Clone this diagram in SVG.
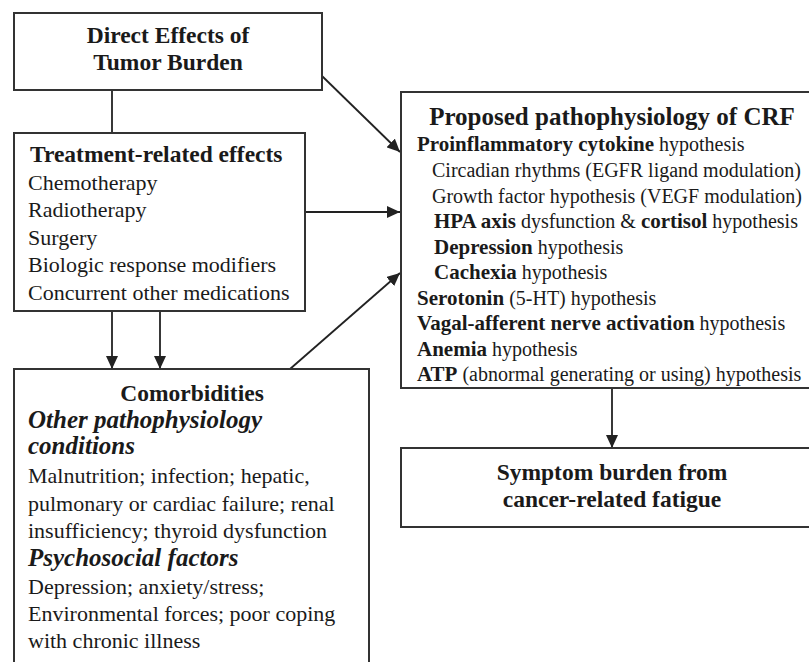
<svg xmlns="http://www.w3.org/2000/svg" width="809" height="662" viewBox="0 0 809 662">
  <defs>
    <marker id="arr" markerUnits="userSpaceOnUse" markerWidth="14" markerHeight="12" refX="13" refY="6" orient="auto">
      <path d="M0,0 L13,6 L0,12 Z" fill="#222"/>
    </marker>
    <style>
      .box { fill: #fff; stroke: #333; stroke-width: 2; }
      .ln { fill: none; stroke: #222; stroke-width: 1.8; }
      text { font-family: "Liberation Serif", "Times New Roman", serif; fill: #1a1a1a; }
      .h { font-weight: bold; font-size: 23.5px; }
      .t { font-size: 22px; }
      .hi { font-weight: bold; font-style: italic; font-size: 25px; }
      .r { font-size: 20px; }
      .b { font-weight: bold; font-size: 21px; }
      .c { text-anchor: middle; }
    </style>
  </defs>
  <rect width="809" height="662" fill="#fff"/>

  <g id="connectors">
    <line class="ln" x1="112" y1="90" x2="112" y2="133"/>
    <line class="ln" x1="322" y1="76" x2="400" y2="152" marker-end="url(#arr)"/>
    <line class="ln" x1="305" y1="212" x2="400" y2="212" marker-end="url(#arr)"/>
    <line class="ln" x1="112" y1="311" x2="112" y2="369" marker-end="url(#arr)"/>
    <line class="ln" x1="160" y1="311" x2="160" y2="369" marker-end="url(#arr)"/>
    <line class="ln" x1="290" y1="369" x2="400" y2="273" marker-end="url(#arr)"/>
    <line class="ln" x1="612" y1="388" x2="612" y2="448" marker-end="url(#arr)"/>
  </g>

  <g id="direct-effects">
    <rect class="box" x="14" y="13" width="308" height="77"/>
    <text class="h c" x="168" y="43">Direct Effects of</text>
    <text class="h c" x="168" y="70">Tumor Burden</text>
  </g>

  <g id="treatment">
    <rect class="box" x="14" y="133" width="291" height="178"/>
    <text class="h" x="30" y="162">Treatment-related effects</text>
    <text class="t" x="28" y="190">Chemotherapy</text>
    <text class="t" x="28" y="217">Radiotherapy</text>
    <text class="t" x="28" y="245">Surgery</text>
    <text class="t" x="28" y="272">Biologic response modifiers</text>
    <text class="t" x="28" y="300">Concurrent other medications</text>
  </g>

  <g id="comorbidities">
    <rect class="box" x="14" y="369" width="355" height="300"/>
    <text class="h c" x="192" y="401">Comorbidities</text>
    <text class="hi" x="28" y="428">Other pathophysiology</text>
    <text class="hi" x="28" y="454">conditions</text>
    <text class="t" x="28" y="483">Malnutrition; infection; hepatic,</text>
    <text class="t" x="28" y="511">pulmonary or cardiac failure; renal</text>
    <text class="t" x="28" y="538">insufficiency; thyroid dysfunction</text>
    <text class="hi" x="28" y="566">Psychosocial factors</text>
    <text class="t" x="28" y="594">Depression; anxiety/stress;</text>
    <text class="t" x="28" y="621">Environmental forces; poor coping</text>
    <text class="t" x="28" y="648">with chronic illness</text>
  </g>

  <g id="pathophysiology">
    <rect class="box" x="401" y="92" width="420" height="296"/>
    <text class="c" x="612" y="125" font-weight="bold" font-size="25">Proposed pathophysiology of CRF</text>
    <text x="417" y="151"><tspan class="b">Proinflammatory cytokine</tspan><tspan class="r"> hypothesis</tspan></text>
    <text class="r" x="432" y="177">Circadian rhythms (EGFR ligand modulation)</text>
    <text class="r" x="432" y="203">Growth factor hypothesis (VEGF modulation)</text>
    <text x="434" y="228"><tspan class="b">HPA axis</tspan><tspan class="r"> dysfunction &amp; </tspan><tspan class="b">cortisol</tspan><tspan class="r"> hypothesis</tspan></text>
    <text x="434" y="254"><tspan class="b">Depression</tspan><tspan class="r"> hypothesis</tspan></text>
    <text x="434" y="279"><tspan class="b">Cachexia</tspan><tspan class="r"> hypothesis</tspan></text>
    <text x="417" y="305"><tspan class="b">Serotonin</tspan><tspan class="r"> (5-HT) hypothesis</tspan></text>
    <text x="417" y="330"><tspan class="b">Vagal-afferent nerve activation</tspan><tspan class="r"> hypothesis</tspan></text>
    <text x="417" y="356"><tspan class="b">Anemia</tspan><tspan class="r"> hypothesis</tspan></text>
    <text x="417" y="381"><tspan class="b">ATP</tspan><tspan class="r"> (abnormal generating or using) hypothesis</tspan></text>
  </g>

  <g id="symptom-burden">
    <rect class="box" x="401" y="448" width="420" height="79"/>
    <text class="h c" x="612" y="480">Symptom burden from</text>
    <text class="h c" x="612" y="507">cancer-related fatigue</text>
  </g>
</svg>
